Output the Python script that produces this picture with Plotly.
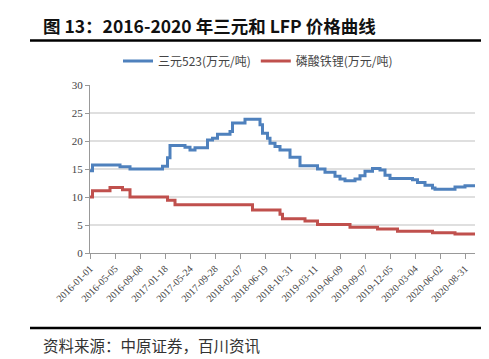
import plotly.graph_objects as go

# tick labels (category positions every 10 steps)
tick_pos = [0, 10, 20, 30, 40, 50, 60, 70, 80, 90, 100, 110, 120, 130, 140, 150]
tick_labels = ["2016-01-01", "2016-05-05", "2016-09-08", "2017-01-18", "2017-05-24",
               "2017-09-28", "2018-02-07", "2018-06-19", "2018-10-31", "2019-03-11",
               "2019-06-09", "2019-09-07", "2019-12-05", "2020-03-04", "2020-06-02",
               "2020-08-31"]

# 三元523 step series
ncm_x = [0, 1, 12, 16, 29, 31, 32, 38, 40, 42, 47, 49, 51, 56, 57, 62, 68, 69, 71, 72, 74,
         76, 80, 84, 91, 94, 98, 100, 102, 106, 108, 110, 113, 116, 118, 120, 129, 131,
         134, 137, 138, 146, 150, 154]
ncm_y = [14.7, 15.7, 15.4, 15.0, 15.5, 17.0, 19.2, 18.9, 18.4, 18.8, 20.2, 20.5, 21.2,
         21.7, 23.2, 23.9, 22.9, 21.4, 20.5, 19.6, 19.0, 18.4, 17.1, 15.6, 15.0, 14.4,
         13.7, 13.2, 12.9, 13.2, 13.8, 14.6, 15.1, 14.8, 13.9, 13.3, 13.1, 12.6, 12.1,
         11.6, 11.4, 11.8, 12.0, 12.0]

# 磷酸铁锂 step series
lfp_x = [0, 1, 8, 13, 16, 31, 34, 65, 76, 77, 86, 91, 104, 115, 123, 137, 146, 154]
lfp_y = [10.0, 11.1, 11.7, 11.3, 10.0, 9.4, 8.6, 7.7, 6.9, 6.1, 5.7, 5.1, 4.6, 4.3, 3.9,
         3.6, 3.4, 3.4]

y_ticks = [0, 5, 10, 15, 20, 25, 30]
grid_vals = [5, 10, 15, 20, 25]

serif = "Liberation Serif, Noto Sans CJK SC, serif"
cjk = "Noto Sans CJK SC, sans-serif"

fig = go.Figure()
fig.add_trace(go.Scatter(x=ncm_x, y=ncm_y, mode="lines", line_shape="hv",
                         name="三元523(万元/吨)",
                         line=dict(color="#4F81BD", width=3)))
fig.add_trace(go.Scatter(x=lfp_x, y=lfp_y, mode="lines", line_shape="hv",
                         name="磷酸铁锂(万元/吨)",
                         line=dict(color="#C0504D", width=3)))

for v in grid_vals:
    fig.add_shape(type="line", xref="paper", yref="y", x0=0, x1=1, y0=v, y1=v,
                  line=dict(color="#BFBFBF", width=1), layer="below")

L, R, T, B = 82, 22, 77, 114
W, H = 489, 359
pw, ph = W - L - R, H - T - B

def px(p):
    return (p - L) / pw

def py(p):
    return (H - B - p) / ph

# title rule and bottom rule
for yy in (32.5, 320):
    fig.add_shape(type="line", xref="paper", yref="paper", x0=px(22), x1=px(475),
                  y0=py(yy), y1=py(yy), line=dict(color="black", width=2.5))

fig.add_annotation(text="<b>图 13：2016-2020 年三元和 LFP 价格曲线</b>", xref="paper", yref="paper",
                   x=px(33), y=py(18), xanchor="left", yanchor="middle", showarrow=False,
                   font=dict(family=cjk, size=17.5, color="#111111"))
fig.add_annotation(text="资料来源：中原证券，百川资讯", xref="paper", yref="paper",
                   x=px(33), y=py(337), xanchor="left", yanchor="middle", showarrow=False,
                   font=dict(family=cjk, size=15.5, color="#333333"))

fig.update_layout(
    width=W, height=H,
    margin=dict(l=L, r=R, t=T, b=B),
    paper_bgcolor="white", plot_bgcolor="white",
    showlegend=True,
    legend=dict(orientation="h", x=px(250), y=py(53), xanchor="center", yanchor="middle",
                font=dict(family=cjk, size=12, color="#444444"),
                itemwidth=30, tracegroupgap=0, bgcolor="rgba(0,0,0,0)"),
    xaxis=dict(range=[0, 154], tickmode="array", tickvals=tick_pos, ticktext=tick_labels,
               tickangle=-45, ticks="outside", ticklen=5, tickcolor="#999999",
               showline=True, linecolor="#999999", linewidth=1, showgrid=False,
               zeroline=False, tickfont=dict(family=serif, size=10, color="#444444")),
    yaxis=dict(range=[0, 30], tickmode="array", tickvals=y_ticks,
               ticks="outside", ticklen=4, tickcolor="#999999",
               showline=True, linecolor="#999999", linewidth=1, showgrid=False,
               zeroline=False, tickfont=dict(family=serif, size=11, color="#444444")),
)

fig.write_html("out.html")
